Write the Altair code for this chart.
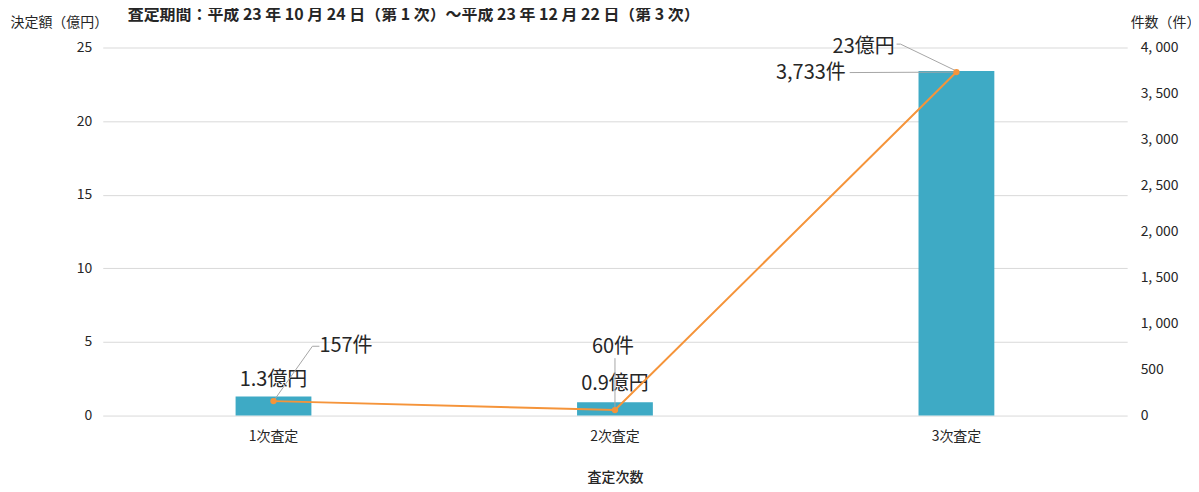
import altair as alt
import pandas as pd

categories = ["1次査定", "2次査定", "3次査定"]
amounts = [1.3, 0.9, 23.4]          # 決定額（億円）
amount_labels = ["1.3億円", "0.9億円", "23億円"]
counts = [157, 60, 3733]            # 件数（件）
count_labels = ["157件", "60件", "3,733件"]

title_text = "査定期間：平成 23 年 10 月 24 日（第 1 次）～平成 23 年 12 月 22 日（第 3 次）"

df = pd.DataFrame({
    "cat": categories,
    "amount": amounts,
    "alabel": amount_labels,
    "count": counts,
    "clabel": count_labels,
})

BAR = "#3EAAC5"
LINE = "#F5943A"
LEAD = "#A6A6A6"
TXT = "#262626"
CJK = "Noto Sans CJK JP"
NUM = "Noto Sans CJK JP"

W, H = 1027, 369

x = alt.X("cat:N", sort=categories,
          scale=alt.Scale(paddingInner=0, paddingOuter=0),
          axis=alt.Axis(title="査定次数", labelAngle=0, domain=False, ticks=False,
                        grid=False,
                        labelPadding=14, labelFontSize=14, labelFont=NUM,
                        labelColor=TXT, titleFont=CJK, titleFontSize=14,
                        titleFontWeight=500, titleColor=TXT, titlePadding=27))

yL = alt.Y("amount:Q", scale=alt.Scale(domain=[0, 25], nice=False),
           axis=alt.Axis(title="決定額（億円）", values=[0, 5, 10, 15, 20, 25],
                         domain=False, ticks=False, labelPadding=11,
                         labelFontSize=14, labelFont=NUM, labelColor=TXT,
                         gridColor="#D9D9D9", titleAngle=0, titleAlign="left",
                         titleBaseline="middle", titleX=-93, titleY=-25,
                         titleFont=CJK, titleFontSize=14, titleFontWeight="normal",
                         titleColor=TXT))

yR = alt.Y("count:Q", scale=alt.Scale(domain=[0, 4000], nice=False),
           axis=alt.Axis(title="件数（件）", orient="right",
                         values=[0, 500, 1000, 1500, 2000, 2500, 3000, 3500, 4000],
                         labelExpr="replace(format(datum.value, ','), ',', ', ')",
                         grid=False, domain=False, ticks=False, labelPadding=13,
                         labelFontSize=14, labelFont=NUM, labelColor=TXT,
                         titleAngle=0, titleAlign="left", titleBaseline="middle",
                         titleX=3, titleY=-25, titleFont=CJK, titleFontSize=14,
                         titleFontWeight="normal", titleColor=TXT))

base = alt.Chart(df)

bars = base.mark_bar(color=BAR, size=76).encode(x=x, y=yL)

# amount labels: (category, align, dx, dy)
amount_label_style = [
    ("1次査定", "center", 0, -6),
    ("2次査定", "center", 0, -8),
    ("3次査定", "right", -62, -14),
]
amount_text = []
for c, al, dx, dy in amount_label_style:
    amount_text.append(
        base.transform_filter(alt.datum.cat == c)
        .mark_text(align=al, baseline="bottom", dx=dx, dy=dy, fontSize=20,
                   font=CJK, color=TXT)
        .encode(x=alt.X("cat:N", sort=categories), y=alt.Y("amount:Q"), text="alabel:N")
    )

amount_leader = (base.transform_filter(alt.datum.cat == "3次査定")
                 .mark_rule(color=LEAD, strokeWidth=1, x2Offset=-56, y2Offset=-27)
                 .encode(x=alt.X("cat:N", sort=categories), x2="cat:N",
                         y=alt.Y("amount:Q"), y2="amount:Q"))
amount_leader2 = (base.transform_filter(alt.datum.cat == "3次査定")
                  .mark_rule(color=LEAD, strokeWidth=1, xOffset=-56, yOffset=-27,
                             x2Offset=-60, y2Offset=-27)
                  .encode(x=alt.X("cat:N", sort=categories), x2="cat:N",
                          y=alt.Y("amount:Q"), y2="amount:Q"))

left = alt.layer(bars, *amount_text, amount_leader, amount_leader2)

# count leaders: (category, xOffset, yOffset, x2Offset, y2Offset)
count_leader_style = [
    ("1次査定", 0, 0, 39, -55),
    ("1次査定", 39, -55, 46, -55),
    ("2次査定", 0, 0, 0, -52),
    ("3次査定", 0, 0, -107, 0.5),
]
count_leaders = []
for c, xo, yo, x2o, y2o in count_leader_style:
    count_leaders.append(
        base.transform_filter(alt.datum.cat == c)
        .mark_rule(color=LEAD, strokeWidth=1, xOffset=xo, yOffset=yo,
                   x2Offset=x2o, y2Offset=y2o)
        .encode(x=alt.X("cat:N", sort=categories), x2="cat:N",
                y=alt.Y("count:Q"), y2="count:Q")
    )

line = base.mark_line(color=LINE, strokeWidth=2).encode(x=alt.X("cat:N", sort=categories), y=yR)
pts = base.mark_point(color=LINE, filled=True, size=40, opacity=1).encode(
    x=alt.X("cat:N", sort=categories), y=alt.Y("count:Q"))

# count labels: (category, align, dx, dy)
count_label_style = [
    ("1次査定", "left", 46, -55),
    ("2次査定", "center", -2, -63),
    ("3次査定", "right", -111, 1),
]
count_text = []
for c, al, dx, dy in count_label_style:
    count_text.append(
        base.transform_filter(alt.datum.cat == c)
        .mark_text(align=al, baseline="middle", dx=dx, dy=dy, fontSize=20,
                   font=CJK, color=TXT)
        .encode(x=alt.X("cat:N", sort=categories), y=alt.Y("count:Q"), text="clabel:N")
    )

right = alt.layer(line, *count_leaders, pts, *count_text)

chart = (
    alt.layer(left, right)
    .resolve_scale(y="independent")
    .properties(
        width=W, height=H,
        background="white",
        autosize=alt.AutoSizeParams(type="none"),
        padding={"left": 95, "top": 39, "right": 64, "bottom": 68},
        title=alt.TitleParams(title_text, anchor="start", frame="group", dx=25,
                              offset=-15, baseline="middle", fontSize=16,
                              fontWeight="bold", font=CJK, color=TXT),
    )
    .configure_view(strokeWidth=0, stroke="transparent")
    .configure_axis(domain=False, ticks=False)
    .configure_axisX(grid=False)
)

chart.save("out.html", embed_options={"renderer": "svg", "actions": False})
